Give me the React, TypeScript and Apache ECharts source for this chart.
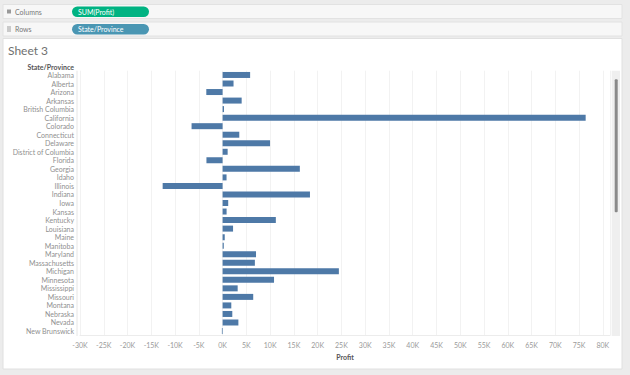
import React, { useEffect, useRef } from "react";
import * as echarts from "echarts";

const states = [
  "Alabama", "Alberta", "Arizona", "Arkansas", "British Columbia", "California",
  "Colorado", "Connecticut", "Delaware", "District of Columbia", "Florida", "Georgia",
  "Idaho", "Illinois", "Indiana", "Iowa", "Kansas", "Kentucky", "Louisiana", "Maine",
  "Manitoba", "Maryland", "Massachusetts", "Michigan", "Minnesota", "Mississippi",
  "Missouri", "Montana", "Nebraska", "Nevada", "New Brunswick",
];
const profit = [
  5790, 2300, -3430, 4010, 300, 76380,
  -6530, 3510, 9980, 1060, -3400, 16250,
  830, -12610, 18380, 1180, 840, 11200, 2200, 450,
  250, 7030, 6790, 24460, 10820, 3170,
  6440, 1830, 2040, 3320, -150,
];
const shelfLabels = ["Columns", "Rows"];
const pillLabels = ["SUM(Profit)", "State/Province"];
const sheetTitle = "Sheet 3";
const rowHeader = "State/Province";
const measureName = "Profit";

const FONT = "Lato, 'Open Sans', sans-serif";

export default function App() {
  const ref = useRef<HTMLDivElement>(null);
  useEffect(() => {
    if (!ref.current) return;
    const chart = echarts.init(ref.current, undefined, { renderer: "svg" });
    const option: any = {
      animation: false,
      backgroundColor: "#ececec",
      textStyle: { fontFamily: FONT },
      graphic: [
        // shelves
        { type: "rect", shape: { x: 3, y: 4.5, width: 619, height: 14 }, style: { fill: "#f7f7f7", stroke: "#e2e2e2", lineWidth: 1 }, z: 1 },
        { type: "rect", shape: { x: 3, y: 22, width: 619, height: 14 }, style: { fill: "#f7f7f7", stroke: "#e2e2e2", lineWidth: 1 }, z: 1 },
        // icons
        { type: "rect", shape: { x: 7, y: 9.5, width: 4, height: 4 }, style: { fill: "#9a9a9a" }, z: 2 },
        { type: "rect", shape: { x: 7, y: 26.5, width: 4, height: 1 }, style: { fill: "#9a9a9a" }, z: 2 },
        { type: "rect", shape: { x: 7, y: 28.5, width: 4, height: 1 }, style: { fill: "#9a9a9a" }, z: 2 },
        { type: "rect", shape: { x: 7, y: 30.5, width: 4, height: 1 }, style: { fill: "#9a9a9a" }, z: 2 },
        { type: "text", x: 15, y: 11.5, style: { text: shelfLabels[0], fill: "#777", fontSize: 7, fontFamily: FONT, textVerticalAlign: "middle" }, z: 2 },
        { type: "text", x: 15, y: 29, style: { text: shelfLabels[1], fill: "#777", fontSize: 7, fontFamily: FONT, textVerticalAlign: "middle" }, z: 2 },
        // pills
        { type: "rect", shape: { x: 72, y: 6.5, width: 77, height: 10.5, r: 5.25 }, style: { fill: "#00b382" }, z: 2 },
        { type: "text", x: 78, y: 11.8, style: { text: pillLabels[0], fill: "#ffffff", fontSize: 7, fontFamily: FONT, textVerticalAlign: "middle" }, z: 3 },
        { type: "rect", shape: { x: 72, y: 24, width: 77, height: 10.5, r: 5.25 }, style: { fill: "#4a96b3" }, z: 2 },
        { type: "text", x: 78, y: 29.3, style: { text: pillLabels[1], fill: "#ffffff", fontSize: 7, fontFamily: FONT, textVerticalAlign: "middle" }, z: 3 },
        // sheet area
        { type: "rect", shape: { x: 3, y: 38.5, width: 619, height: 330.5 }, style: { fill: "#ffffff", stroke: "#e0e0e0", lineWidth: 1 }, z: -10 },
        { type: "text", x: 8, y: 50, style: { text: sheetTitle, fill: "#707070", fontSize: 12, fontFamily: FONT, textVerticalAlign: "middle" }, z: 2 },
        { type: "text", x: 74, y: 66.5, style: { text: rowHeader, fill: "#555", fontSize: 7, fontWeight: "bold", fontFamily: FONT, textAlign: "right", textVerticalAlign: "middle" }, z: 2 },
        // divider between row labels and plot
        { type: "line", shape: { x1: 77, y1: 70.7, x2: 77, y2: 336 }, style: { stroke: "#e6e6e6", lineWidth: 1 }, z: 2 },
        // scroll bar
        { type: "rect", shape: { x: 611.7, y: 70.7, width: 8.3, height: 265.3 }, style: { fill: "#efefef" }, z: 2 },
        { type: "rect", shape: { x: 614.7, y: 79.3, width: 3, height: 133, r: 1 }, style: { fill: "#8a8a8a" }, z: 3 },
      ],
      grid: { left: 80, right: 20, top: 70.7, bottom: 39.7, containLabel: false },
      xAxis: {
        type: "value",
        min: -30000,
        max: 81500,
        interval: 5000,
        axisLine: { show: true, lineStyle: { color: "#ececec" } },
        axisTick: { show: false },
        splitLine: { show: true, lineStyle: { color: "#f2f2f2", width: 1 } },
        axisLabel: {
          showMaxLabel: false,
          color: "#9a9a9a",
          fontSize: 7,
          fontFamily: FONT,
          margin: 6,
          formatter: (v: number) => (v % 5000 === 0 ? `${v / 1000}K` : ""),
        },
        name: measureName,
        nameLocation: "middle",
        nameGap: 18,
        nameTextStyle: { color: "#555", fontSize: 7, fontWeight: "bold", fontFamily: FONT },
      },
      yAxis: {
        type: "category",
        inverse: true,
        data: states,
        axisLine: { show: false },
        axisTick: { show: false },
        splitLine: { show: false },
        axisLabel: { interval: 0, color: "#8f8f8f", fontSize: 7, fontFamily: FONT, margin: 6 },
      },
      series: [
        {
          type: "bar",
          data: profit,
          barWidth: 6,
          itemStyle: { color: "#4e79a7" },
        },
      ],
    };
    chart.setOption(option);
    return () => chart.dispose();
  }, []);
  return (
    <div
      ref={ref}
      style={{ position: "fixed", left: 0, top: 0, width: 630, height: 375 }}
    />
  );
}
